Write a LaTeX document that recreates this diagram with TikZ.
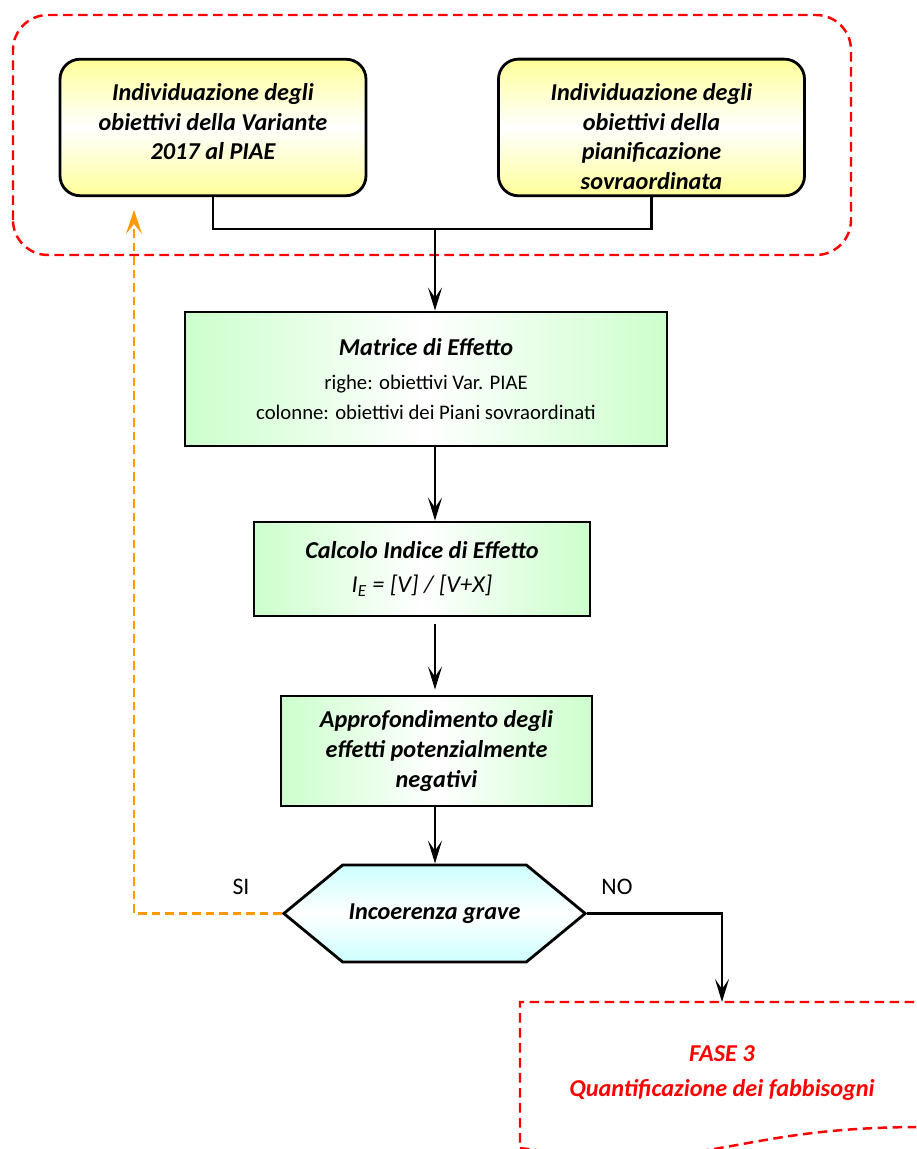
\documentclass[tikz,border=0pt]{standalone}
\usepackage{fontspec}
\setmainfont{Carlito}
\usetikzlibrary{arrows.meta,shapes.symbols}
\definecolor{yel}{RGB}{255,255,153}
\definecolor{grn}{RGB}{204,255,204}
\definecolor{cya}{RGB}{204,255,255}
\definecolor{org}{RGB}{255,153,0}
\newcommand{\bigit}{\fontsize{13.8}{17}\selectfont\bfseries\itshape}
\newcommand{\smallrm}{\fontsize{11.8}{16}\selectfont\mdseries\upshape}
\newcommand{\topgap}{\rule{0pt}{20pt}}

\begin{document}
\begin{tikzpicture}[line width=1.4pt,>={Stealth[length=0.46cm,width=0.28cm,inset=0.2cm]},
  ybox/.style={draw,line width=1.6pt,rounded corners=0.4cm,minimum width=6.12cm,minimum height=2.66cm,align=center,font=\bigit,top color=yel,bottom color=yel,middle color=white},
  gbox/.style={draw,line width=1.6pt,align=center,font=\bigit,left color=grn,right color=grn,middle color=white},
  hexbox/.style={draw,line width=1.6pt,shape=signal,signal to=west and east,signal pointer angle=79,minimum width=5.86cm,minimum height=1.94cm,font=\bigit,top color=cya,bottom color=cya,middle color=white},
  reddash/.style={draw=red,line width=1.4pt,dash pattern=on 0.19cm off 0.11cm},
  orgdash/.style={draw=org,line width=1.4pt,dash pattern=on 0.17cm off 0.1cm}]
\useasboundingbox (0,0) rectangle (18.32,22.98);
\clip (0,0) rectangle (18.32,22.98);
\draw[reddash,rounded corners=0.7cm] (0.26,17.88) rectangle (17.02,22.68);
\node[ybox] (goalvar) at (4.26,20.43) {\topgap Individuazione degli\\obiettivi della Variante\\2017 al PIAE\\\mbox{}};
\node[ybox] (goalsup) at (13.03,20.43) {\topgap Individuazione degli\\obiettivi della\\pianificazione\\sovraordinata};
\node[gbox,minimum width=9.64cm,minimum height=2.68cm] (matrix) at (8.52,15.40) {Matrice di Effetto\\[2pt]{\smallrm righe: obiettivi Var. PIAE}\\{\smallrm colonne: obiettivi dei Piani sovraordinati}};
\node[gbox,minimum width=6.72cm,minimum height=1.88cm] (index) at (8.44,11.60) {Calcolo Indice di Effetto\\[2pt]{\mdseries I\textsubscript{E} = [V] / [V+X]}};
\node[gbox,minimum width=6.22cm,minimum height=2.2cm] (deep) at (8.73,7.96) {Approfondimento degli\\effetti potenzialmente\\negativi};
\node[hexbox] (check) at (8.69,4.71) {Incoerenza grave};
\node[font=\fontsize{13.5}{16}\selectfont] (yes) at (4.82,5.24) {SI};
\node[font=\fontsize{13.5}{16}\selectfont] (no) at (12.34,5.24) {NO};
\draw[reddash] (18.48,0.44) -- (18.48,2.94) -- (10.4,2.94) -- (10.4,0.02) .. controls (14.44,-0.52) and (14.44,0.44) .. (18.48,0.44);
\node[align=center,text=red,font=\bigit] (phase) at (14.44,1.51) {FASE 3\\[3pt]Quantificazione dei fabbisogni};
\coordinate (join) at (8.7,18.4);
\coordinate (turn) at (14.44,4.71);
\coordinate (phasetop) at (14.44,2.94);
\coordinate (back) at (2.68,18.78);
\draw (goalvar.south) |- (join) -| (goalsup.south);
\draw[->] (join) -- (join |- matrix.north);
\draw[->] (matrix.south -| join) -- (index.north -| join);
\draw[->,shorten <=0.14cm,shorten >=0.1cm] (index.south -| join) -- (deep.north -| join);
\draw[->] (deep.south -| join) -- (check.north -| join);
\draw[->] (check.east) -- (turn) -- (phasetop);
\draw[orgdash,->,>={Stealth[length=0.48cm,width=0.32cm,inset=0.2cm]},org] (check.west) -| (back);
\end{tikzpicture}
\end{document}
